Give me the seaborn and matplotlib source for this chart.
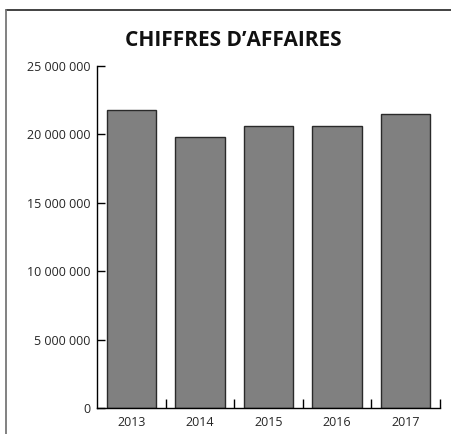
import matplotlib
matplotlib.use("Agg")
import matplotlib.pyplot as plt
import matplotlib.ticker as mticker
from matplotlib.lines import Line2D
import seaborn as sns
import pandas as pd

years = ["2013", "2014", "2015", "2016", "2017"]
revenue = [21_790_000, 19_770_000, 20_600_000, 20_620_000, 21_450_000]
y_ticks = [0, 5_000_000, 10_000_000, 15_000_000, 20_000_000, 25_000_000]
title = "CHIFFRES D\u2019AFFAIRES"

sns.set_style("white")
plt.rcParams["font.family"] = ["Open Sans", "DejaVu Sans"]

df = pd.DataFrame({"year": years, "revenue": revenue})

fig = plt.figure(figsize=(4.52, 4.34), dpi=100)
ax = fig.add_axes([97 / 452, 1 - 408 / 434, (440 - 97) / 452, (408 - 65.7) / 434])

sns.barplot(data=df, x="year", y="revenue", color="#808080", saturation=1,
            width=0.72, edgecolor="#2a2a2a", linewidth=1.0, ax=ax)

ax.set_xlim(-0.5, 4.5)
ax.set_ylim(0, 25_000_000)
ax.set_yticks(y_ticks)
ax.yaxis.set_major_formatter(mticker.FuncFormatter(lambda v, p: f"{int(v):,}".replace(",", " ")))
ax.set_xlabel("")
ax.set_ylabel("")
for s in ["top", "right"]:
    ax.spines[s].set_visible(False)
for s in ["left", "bottom"]:
    ax.spines[s].set_color("black")
    ax.spines[s].set_linewidth(1.0)

ax.tick_params(axis="y", direction="in", length=6, width=1.0, color="black",
               labelsize=9, pad=5, left=True)
ax.tick_params(axis="x", which="major", length=0, labelsize=9, pad=6)
ax.set_xticks([0.5, 1.5, 2.5, 3.5, 4.5], minor=True)
ax.tick_params(axis="x", which="minor", direction="in", length=6.5, width=1.0,
               color="black", bottom=True)

fig.text(233 / 452, 1 - 40 / 434, title, ha="center", va="center",
         fontsize=15, fontweight="bold", color="#111111")

# outer frame (top and left)
fig.add_artist(Line2D([6.5 / 452, 1.0], [1 - 9.5 / 434, 1 - 9.5 / 434],
                      transform=fig.transFigure, color="#333333", lw=1.3))
fig.add_artist(Line2D([6.5 / 452, 6.5 / 452], [0, 1 - 9.5 / 434],
                      transform=fig.transFigure, color="#777777", lw=1.3))

fig.savefig("out.png", dpi=100)
